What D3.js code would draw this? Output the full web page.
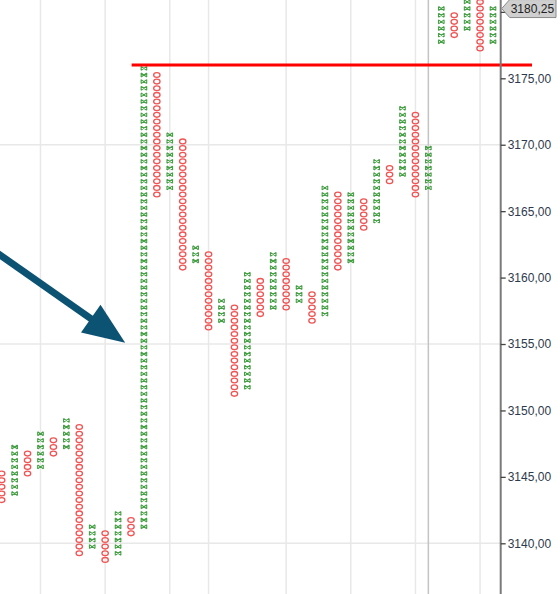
<!DOCTYPE html>
<html>
<head>
<meta charset="utf-8">
<script src="https://cdn.jsdelivr.net/npm/d3@7"></script>
<style>
  html, body { margin: 0; padding: 0; background: #fff; }
  svg { display: block; }
</style>
</head>
<body>
<svg id="chart" width="560" height="594"></svg>
<script>
// ---- data (box centre prices) ----
const colTypes = ["O","X","O","X","O","X","O","X","O","X","O","X","O","X","O","X","O","X","O","X",
                  "O","X","O","X","O","X","O","X","O","X","O","X","O","X","X","O","X","O","X"];
const colLows  = [3143.25,3143.75,3145.25,3145.75,3146.75,3147.25,3139.25,3139.75,3138.75,3139.25,
                  3140.75,3141.25,3166.25,3166.75,3160.75,3161.25,3156.25,3156.75,3151.25,3151.75,
                  3157.25,3157.75,3157.75,3158.25,3156.75,3157.25,3160.75,3161.25,3163.75,3164.25,
                  3167.25,3167.75,3166.25,3166.75,3177.75,3178.25,3178.75,3177.25,3177.75];
const colHighs = [3145.25,3147.25,3146.75,3148.25,3147.75,3149.25,3148.75,3141.25,3140.75,3142.25,
                  3141.75,3175.75,3175.25,3170.75,3170.25,3162.25,3161.75,3158.25,3157.75,3160.25,
                  3159.75,3161.75,3161.25,3159.25,3158.75,3166.75,3166.25,3166.25,3165.75,3168.75,
                  3168.25,3172.75,3172.25,3169.75,3180.25,3179.75,3181.25,3180.75,3180.25];
const boxSize = 0.5;
const yTicks = [3140, 3145, 3150, 3155, 3160, 3165, 3170, 3175, 3180];
const yTickLabels = [3140, 3145, 3150, 3155, 3160, 3165, 3170, 3175];
const hGridValues = [3140, 3155, 3170];
const vGridCols = [3, 8, 13, 16, 22, 27, 32, 37];
const vGridDarkCols = [33];
const resistanceLevel = 3176;
const resistanceStartCol = 10.05;
const lastPrice = 3180.25;
const arrowFrom = { col: -0.13, price: 3161.7 };
const arrowTo   = { col: 9.55,  price: 3155.1 };

// ---- scales ----
const W = 560, H = 594;
const axisX = 500.7;
const x = d3.scaleLinear().domain([0, 38]).range([1.7, 493.0]);
const y = d3.scaleLinear().domain([3140, 3175]).range([543.3, 78.3]);
const svg = d3.select("#chart");

const fmt = v => d3.format(".2f")(v).replace(".", ",");

// grid
const grid = svg.append("g");
grid.selectAll("line.h").data(hGridValues).join("line")
  .attr("x1", 0).attr("x2", axisX).attr("y1", d => y(d)).attr("y2", d => y(d))
  .attr("stroke", "#e8e8e8").attr("stroke-width", 1.5);
grid.selectAll("line.v").data(vGridCols).join("line")
  .attr("x1", d => x(d)).attr("x2", d => x(d)).attr("y1", 0).attr("y2", H)
  .attr("stroke", "#e8e8e8").attr("stroke-width", 1.5);
grid.selectAll("line.vd").data(vGridDarkCols).join("line")
  .attr("x1", d => x(d)).attr("x2", d => x(d)).attr("y1", 0).attr("y2", H)
  .attr("stroke", "#c4c4c4").attr("stroke-width", 1.5);

// marks
const boxes = [];
colTypes.forEach((t, i) => {
  const n = Math.round((colHighs[i] - colLows[i]) / boxSize);
  for (let k = 0; k <= n; k++) boxes.push({ col: i, type: t, price: colLows[i] + k * boxSize });
});
const plot = svg.append("g").attr("clip-path", "url(#clipPlot)");
svg.append("clipPath").attr("id", "clipPlot").append("rect")
  .attr("x", 0).attr("y", 0).attr("width", axisX).attr("height", H);

plot.selectAll("ellipse").data(boxes.filter(b => b.type === "O")).join("ellipse")
  .attr("cx", d => x(d.col)).attr("cy", d => y(d.price))
  .attr("rx", 3.2).attr("ry", 2.4)
  .attr("fill", "none").attr("stroke", "#f05454").attr("stroke-width", 1.3);

plot.selectAll("path.x").data(boxes.filter(b => b.type === "X")).join("path")
  .attr("class", "x")
  .attr("transform", d => `translate(${x(d.col)},${y(d.price)})`)
  .attr("d", "M-2.8,-2 L2.8,2 M-2.8,2 L2.8,-2 M-2.8,-2 L-2.8,2 M2.8,-2 L2.8,2")
  .attr("fill", "none").attr("stroke", "#46a046").attr("stroke-width", 1.1);

// resistance line
svg.append("line")
  .attr("x1", x(resistanceStartCol)).attr("x2", 532)
  .attr("y1", y(resistanceLevel)).attr("y2", y(resistanceLevel))
  .attr("stroke", "#ff0000").attr("stroke-width", 3.2);

// axis
svg.append("line").attr("x1", axisX).attr("x2", axisX).attr("y1", 0).attr("y2", H)
  .attr("stroke", "#7a7a7a").attr("stroke-width", 2);
const axis = d3.axisRight(y).tickValues(yTicks).tickSize(5).tickPadding(2)
  .tickFormat(v => yTickLabels.includes(v) ? fmt(v) : "");
const ax = svg.append("g").attr("transform", `translate(${axisX},0)`).call(axis);
ax.select(".domain").remove();
ax.selectAll(".tick line").attr("stroke", "#444").attr("stroke-width", 1.3);
ax.selectAll(".tick text").attr("fill", "#2e3a4e")
  .style("font-family", "Arial, 'Liberation Sans', sans-serif").style("font-size", "12px");

// last price label
const ly = y(lastPrice);
const lab = svg.append("g");
lab.append("path")
  .attr("d", `M${axisX + 1},${ly} L${axisX + 9},${ly - 9} L${W - 4},${ly - 9} L${W - 4},${ly + 9} L${axisX + 9},${ly + 9} Z`)
  .attr("fill", "#cfcfcf").attr("stroke", "#8a8a8a").attr("stroke-width", 1);
lab.append("text").attr("x", axisX + 10).attr("y", ly).attr("dy", "0.35em")
  .text(fmt(lastPrice))
  .attr("fill", "#222").style("font-family", "Arial, 'Liberation Sans', sans-serif").style("font-size", "12px");

// arrow annotation
const ax0 = x(arrowFrom.col), ay0 = y(arrowFrom.price);
const ax1 = x(arrowTo.col),   ay1 = y(arrowTo.price);
const len = Math.hypot(ax1 - ax0, ay1 - ay0);
const ux = (ax1 - ax0) / len, uy = (ay1 - ay0) / len;
const headL = 42, headW = 17;
const bx = ax1 - headL * ux, by = ay1 - headL * uy;
svg.append("line")
  .attr("x1", ax0 - 5 * ux).attr("y1", ay0 - 5 * uy).attr("x2", bx + 4 * ux).attr("y2", by + 4 * uy)
  .attr("stroke", "#0b5273").attr("stroke-width", 7);
svg.append("path")
  .attr("d", `M${ax1},${ay1} L${bx - headW * uy},${by + headW * ux} L${bx + headW * uy},${by - headW * ux} Z`)
  .attr("fill", "#0b5273");
</script>
</body>
</html>
